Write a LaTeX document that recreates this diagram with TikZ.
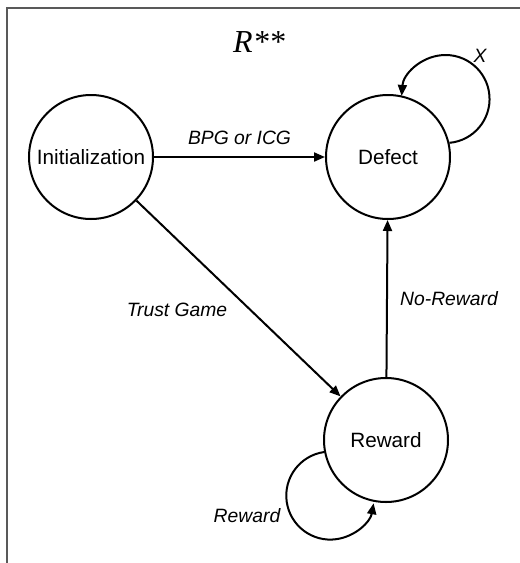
\documentclass[tikz,border=0pt]{standalone}
\usepackage{fontspec}
\setmainfont{Liberation Sans}
\newfontfamily\titlefont{Liberation Serif}
\usetikzlibrary{arrows.meta}
\tikzset{
  state/.style={circle, draw, line width=2pt, minimum size=124pt, inner sep=0pt, font=\fontsize{20.7}{24}\selectfont},
  conn/.style={line width=2pt, -{Triangle[length=11pt,width=9pt]}},
  lbl/.style={font=\fontsize{19.3}{22}\selectfont\itshape, inner sep=0pt},
  frame/.style={line width=1.5pt, draw=black!65}
}
\begin{document}
\begin{tikzpicture}[x=1pt,y=-1pt]
\useasboundingbox (0,0) rectangle (520,563);
\draw[frame] (7,563) -- (7,8) -- (520,8);
\node[inner sep=0pt, font=\titlefont\itshape\fontsize{32}{36}\selectfont] (title) at (259,42) {R**};
\node[state] (I) at (91,157) {Initialization};
\node[state] (D) at (388,157) {Defect};
\node[state] (R) at (386,440) {Reward};
\draw[conn] (I) -- (D) node[lbl, midway, above=11pt] (l1) {BPG or ICG};
\draw[conn] (I) -- (R);
\draw[conn] (R) -- (D);
\draw[conn] (D.13) arc[start angle=85, end angle=-176, radius=44];
\draw[conn] (R.191) arc[start angle=262, end angle=10, radius=44];
\node[lbl] (l2) at (177,310) {Trust Game};
\node[lbl] (l3) at (449,299) {No-Reward};
\node[lbl] (l4) at (480,56) {X};
\node[lbl] (l5) at (247,516) {Reward};
\end{tikzpicture}
\end{document}
